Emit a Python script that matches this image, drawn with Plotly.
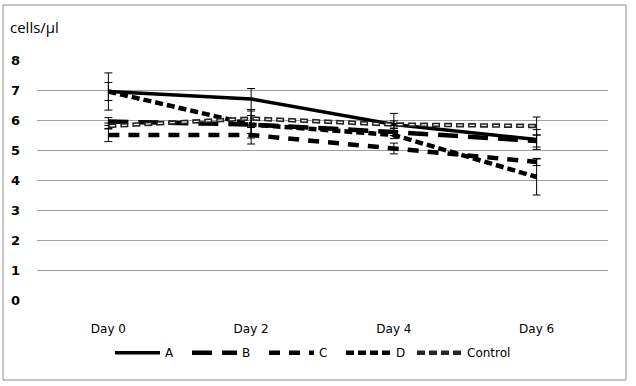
import plotly.graph_objects as go

days = ["Day 0", "Day 2", "Day 4", "Day 6"]
y_ticks = [0, 1, 2, 3, 4, 5, 6, 7, 8]
y_tick_text = ["<b>%d</b>" % v for v in y_ticks]
a_vals = [6.95, 6.7, 5.85, 5.35]
a_err = [0.62, 0.35, 0.37, 0.33]
b_vals = [5.95, 5.85, 5.6, 5.3]
b_err = [0.13, 0.3, 0.12, 0.2]
c_vals = [5.5, 5.5, 5.05, 4.6]
c_err = [0.22, 0.3, 0.18, 0.12]
d_vals = [6.95, 5.85, 5.5, 4.1]
d_err = [0.3, 0.45, 0.12, 0.6]
ctrl_vals = [5.8, 6.05, 5.85, 5.8]
ctrl_err = [0.1, 0.3, 0.12, 0.3]

fig = go.Figure()

def err(arr):
    return dict(type="data", array=arr, visible=True, color="black", thickness=1, width=4)

series = [
    ("A", a_vals, a_err, "solid", "black", 3.5),
    ("B", b_vals, b_err, "20px,10px", "black", 4.5),
    ("C", c_vals, c_err, "11px,9px", "black", 4.5),
    ("D", d_vals, d_err, "8px,4px", "black", 4.5),
]
for name, vals, e, dash, col, w in series:
    fig.add_trace(go.Scatter(x=days, y=vals, name=name, mode="lines",
                             line=dict(color=col, width=w, dash=dash),
                             error_y=err(e), legend="legend"))

fig.add_trace(go.Scatter(x=days, y=ctrl_vals, name="Control", mode="lines",
                         line=dict(color="#262626", width=4.5, dash="8px,4px"),
                         error_y=err(ctrl_err), legend="legend2"))
fig.add_trace(go.Scatter(x=days, y=ctrl_vals, name="Control", mode="lines",
                         showlegend=False, hoverinfo="skip", legend="legend2",
                         line=dict(color="white", width=1.2, dash="0px,1.5px,5px,5.5px")))

fig.update_layout(
    width=636, height=386,
    margin=dict(l=37, r=28, t=60, b=86),
    paper_bgcolor="white", plot_bgcolor="white",
    font=dict(family="DejaVu Sans", color="black", size=12),
    xaxis=dict(range=[-0.5, 3.5], showgrid=False, showline=False, zeroline=False,
               ticks="", tickfont=dict(size=12), ticklabelstandoff=20),
    yaxis=dict(range=[0, 8], tickvals=y_ticks, ticktext=y_tick_text,
               showgrid=True, gridcolor="#a0a0a0", gridwidth=1,
               zeroline=False, showline=False, ticks="",
               tickfont=dict(size=13, family="DejaVu Sans"), ticklabelstandoff=16),
    legend=dict(orientation="h", x=(110 - 37) / 571, xanchor="left", y=-0.22, yanchor="middle",
                font=dict(size=12), itemwidth=45, entrywidth=17, entrywidthmode="pixels",
                tracegroupgap=0),
    legend2=dict(orientation="h", x=(412 - 37) / 571, xanchor="left", y=-0.22, yanchor="middle",
                 font=dict(size=12), itemwidth=45, tracegroupgap=0),
    showlegend=True,
)

fig.add_annotation(text="cells/µl", xref="paper", yref="paper",
                   x=(8 - 37) / 571, y=(300 - 27) / 240, xanchor="left", yanchor="middle",
                   showarrow=False, font=dict(size=15, family="Open Sans"))

fig.add_shape(type="rect", xref="paper", yref="paper",
              x0=(3 - 37) / 571, x1=(626 - 37) / 571,
              y0=(300 - 380) / 240, y1=(300 - 5) / 240,
              line=dict(color="#8c8c8c", width=1), fillcolor="rgba(0,0,0,0)", layer="below")

fig.write_html("out.html", config={"displayModeBar": False},
               post_script="document.body.style.margin='0';document.body.style.padding='0';")
